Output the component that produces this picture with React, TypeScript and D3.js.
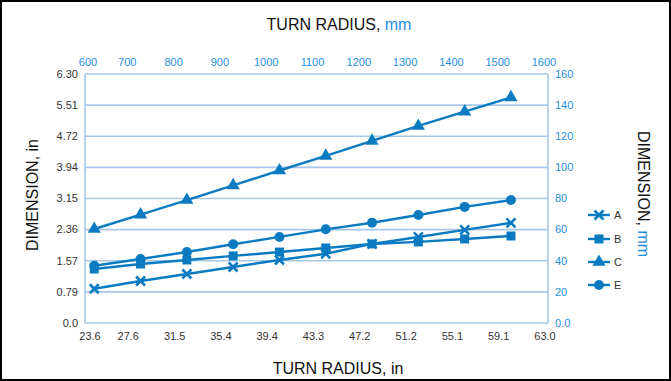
import React from 'react';
import * as d3 from 'd3';

// turn radius of each measured point, mm
const radiusMm = [620, 720, 820, 920, 1020, 1120, 1220, 1320, 1420, 1520];

// dimensions in mm
const seriesA = [22, 27, 31.5, 36, 40.5, 44.5, 50.8, 55.3, 59.8, 64.3];
const seriesB = [34.7, 37.9, 40.5, 43.1, 45.6, 48.2, 50.8, 52.1, 54, 55.9];
const seriesC = [60.4, 69.6, 79, 88.4, 98, 107.4, 117, 126.6, 135.8, 145];
const seriesE = [36.8, 41.1, 45.6, 50.6, 55.3, 60.2, 64.4, 69.4, 74.6, 79];

const seriesNames = ['A', 'B', 'C', 'E'];
const seriesValues = [seriesA, seriesB, seriesC, seriesE];
const seriesMarkers = ['x', 'square', 'triangle', 'circle'];

const mmTicksX = [600, 700, 800, 900, 1000, 1100, 1200, 1300, 1400, 1500, 1600];
const inTickLabelsX = ['23.6', '27.6', '31.5', '35.4', '39.4', '43.3', '47.2', '51.2', '55.1', '59.1', '63.0'];
const mmTicksY = [0, 20, 40, 60, 80, 100, 120, 140, 160];
const mmTickLabelsY = ['0.0', '20', '40', '60', '80', '100', '120', '140', '160'];
const inTickLabelsY = ['0.0', '0.79', '1.57', '2.36', '3.15', '3.94', '4.72', '5.51', '6.30'];

const W = 671;
const H = 381;
const lineColor = '#0b7bc1';
const mmColor = '#1e8fe0';
const gridColor = '#a8c8ea';
const textColor = '#333';
const font = 'Liberation Sans, Arial, sans-serif';

const x = d3.scaleLinear().domain([600, 1600]).range([85, 548]);
const y = d3.scaleLinear().domain([0, 160]).range([323, 74]);

function Marker({ kind, cx, cy }: { kind: string; cx: number; cy: number }) {
   if (kind === 'circle') return <circle cx={cx} cy={cy} r={5} fill={lineColor} />;
   if (kind === 'square') return <rect x={cx - 4.5} y={cy - 4.5} width={9} height={9} fill={lineColor} />;
   if (kind === 'triangle') {
      const tri = d3.symbol().type(d3.symbolTriangle).size(75)();
      return <path d={tri ?? ''} transform={`translate(${cx},${cy})`} fill={lineColor} />;
   }
   return (
      <g stroke={lineColor} strokeWidth={2.6}>
         <line x1={cx - 4.5} y1={cy - 4.5} x2={cx + 4.5} y2={cy + 4.5} />
         <line x1={cx - 4.5} y1={cy + 4.5} x2={cx + 4.5} y2={cy - 4.5} />
      </g>
   );
}

export default function App() {
   const line = d3
      .line<number>()
      .x((_, i) => x(radiusMm[i]))
      .y((d) => y(d));

   const legendY = [215, 239, 262, 285];

   return (
      <div>
         <style>{'body{margin:0}'}</style>
         <svg width={W} height={H} style={{ display: 'block', fontFamily: font }}>
            <rect x={1} y={1} width={W - 2} height={H - 2} fill="white" stroke="black" strokeWidth={2} />

            {/* grid + frame */}
            {mmTicksY.map((t) => (
               <line key={t} x1={x(600)} x2={x(1600)} y1={y(t)} y2={y(t)} stroke={gridColor} strokeWidth={1.6} />
            ))}
            <line x1={x(600)} x2={x(600)} y1={y(0)} y2={y(160)} stroke={gridColor} strokeWidth={1.6} />
            <line x1={x(1600)} x2={x(1600)} y1={y(0)} y2={y(160)} stroke={gridColor} strokeWidth={1.6} />

            {/* left axis, inches */}
            {mmTicksY.map((t, i) => (
               <text key={t} x={78} y={y(t)} dy="0.35em" textAnchor="end" fontSize={11} fill={textColor}>
                  {inTickLabelsY[i]}
               </text>
            ))}
            {/* right axis, mm */}
            {mmTicksY.map((t, i) => (
               <text key={t} x={555} y={y(t)} dy="0.35em" textAnchor="start" fontSize={11} fill={mmColor}>
                  {mmTickLabelsY[i]}
               </text>
            ))}
            {/* top axis, mm */}
            {mmTicksX.map((t, i) => (
               <text key={t} x={x(t) + (i === 0 ? 3 : -4)} y={66} textAnchor="middle" fontSize={11} fill={mmColor}>
                  {t}
               </text>
            ))}
            {/* bottom axis, inches */}
            {mmTicksX.map((t, i) => (
               <text key={t} x={x(t) + (i === 0 ? 5 : -3)} y={340} textAnchor="middle" fontSize={11} fill={textColor}>
                  {inTickLabelsX[i]}
               </text>
            ))}

            {/* titles */}
            <text x={339} y={30} textAnchor="middle" fontSize={16} fill="#111">
               TURN RADIUS, <tspan fill={mmColor}>mm</tspan>
            </text>
            <text x={338} y={374} textAnchor="middle" fontSize={16} fill="#111">
               TURN RADIUS, in
            </text>
            <text transform="translate(38,195) rotate(-90)" textAnchor="middle" fontSize={16} fill="#111">
               DIMENSION, in
            </text>
            <text transform="translate(638,194) rotate(90)" textAnchor="middle" fontSize={16} fill="#111">
               DIMENSION, <tspan fill={mmColor}>mm</tspan>
            </text>

            {/* series */}
            {seriesValues.map((vals, s) => (
               <g key={seriesNames[s]}>
                  <path d={line(vals) ?? ''} fill="none" stroke={lineColor} strokeWidth={2.4} />
                  {vals.map((v, i) => (
                     <Marker key={i} kind={seriesMarkers[s]} cx={x(radiusMm[i])} cy={y(v)} />
                  ))}
               </g>
            ))}

            {/* legend */}
            {seriesNames.map((n, s) => (
               <g key={n}>
                  <line x1={588} x2={610} y1={legendY[s]} y2={legendY[s]} stroke={lineColor} strokeWidth={2.4} />
                  <Marker kind={seriesMarkers[s]} cx={599} cy={legendY[s]} />
                  <text x={614} y={legendY[s]} dy="0.35em" fontSize={11} fill={textColor}>
                     {n}
                  </text>
               </g>
            ))}
         </svg>
      </div>
   );
}
